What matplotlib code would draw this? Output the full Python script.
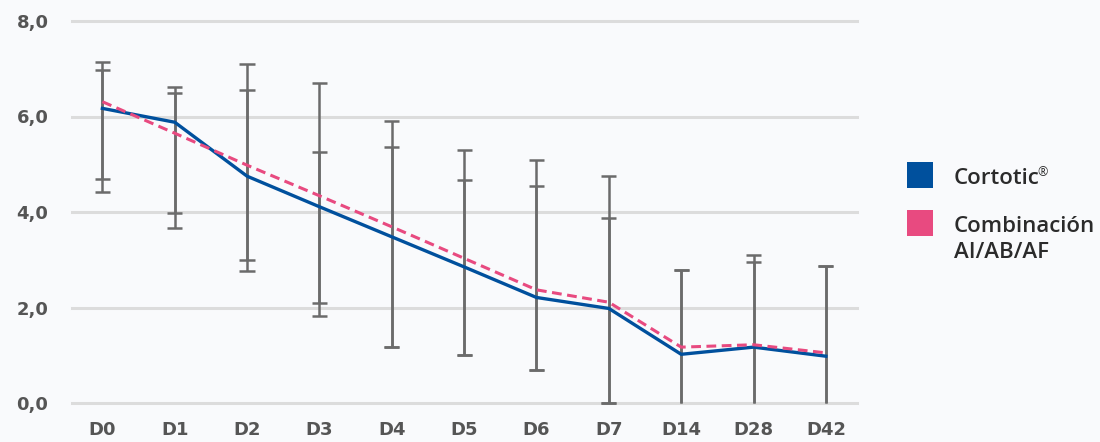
import matplotlib
matplotlib.use("Agg")
import matplotlib.pyplot as plt
from matplotlib.patches import Rectangle
import numpy as np

categories = ["D0", "D1", "D2", "D3", "D4", "D5", "D6", "D7", "D14", "D28", "D42"]
cortotic = [6.17, 5.88, 4.75, 4.11, 3.48, 2.85, 2.21, 1.98, 1.02, 1.17, 0.98]
combinacion = [6.31, 5.65, 4.98, 4.34, 3.69, 3.03, 2.37, 2.11, 1.17, 1.22, 1.05]
cortotic_upper = [6.97, 6.50, 6.56, 5.26, 5.36, 4.68, 4.54, 3.88, 2.79, 2.95, 2.87]
cortotic_lower = [4.69, 3.97, 2.99, 2.10, 1.17, 1.00, 0.69, 0.00, -0.5, -0.5, -0.5]
comb_upper = [7.14, 6.61, 7.10, 6.71, 5.90, 5.29, 5.08, 4.75, 2.79, 3.09, 2.87]
comb_lower = [4.42, 3.67, 2.76, 1.82, 1.17, 1.00, 0.69, 0.00, -0.5, -0.5, -0.5]
yticks = [0, 2, 4, 6, 8]
ytick_labels = ["0,0", "2,0", "4,0", "6,0", "8,0"]
legend_labels = ["Cortotic", "Combinación\nAI/AB/AF"]

BLUE = "#00509d"
PINK = "#e84a80"
GREY = "#6b6b6b"
BG = "#f9fafc"

fig = plt.figure(figsize=(11, 4.42), dpi=100, facecolor=BG)
ax = fig.add_axes([72/1100, 39/442, 785/1100, 382/442], facecolor=BG)
x = np.arange(len(categories))

for yv in yticks:
    ax.axhline(yv, color="#dcdcdc", lw=2.2, zorder=0, clip_on=False)

ax.plot(x, cortotic, color=BLUE, lw=2.4, zorder=3, solid_joinstyle="round")
ax.plot(x, combinacion, color=PINK, lw=2.2, ls=(0, (3.2, 1.8)), zorder=3)

cap_half = 0.105
for ups, lows in [(cortotic_upper, cortotic_lower), (comb_upper, comb_lower)]:
    for xi, u, l in zip(x, ups, lows):
        ax.vlines(xi, max(l, 0), u, color=GREY, lw=1.8, zorder=2, clip_on=False)
        ax.hlines(u, xi - cap_half, xi + cap_half, color=GREY, lw=1.8, zorder=2, clip_on=False)
        if l >= 0:
            ax.hlines(l, xi - cap_half, xi + cap_half, color=GREY, lw=1.8, zorder=2, clip_on=False)

ax.set_xlim(-0.42, 10.43)
ax.set_ylim(0, 8)
ax.set_xticks(x)
ax.set_xticklabels(categories)
ax.set_yticks(yticks)
ax.set_yticklabels(ytick_labels)
ax.tick_params(length=0, labelsize=13, labelcolor="#555555")
ax.tick_params(axis="x", pad=13)
ax.tick_params(axis="y", pad=17)
for lab in ax.get_xticklabels() + ax.get_yticklabels():
    lab.set_fontfamily("DejaVu Sans")
    lab.set_fontweight("bold")
for s in ax.spines.values():
    s.set_visible(False)

# legend
renderer = fig.canvas.get_renderer()
baselines = [[184], [232, 258]]
for i, (lab, col) in enumerate(zip(legend_labels, [BLUE, PINK])):
    ytop = 162 + i * 48
    fig.add_artist(Rectangle((907/1100, 1 - (ytop + 26)/442), 26/1100, 26/442,
                             transform=fig.transFigure, facecolor=col, edgecolor="none"))
    for line, yb in zip(lab.split("\n"), baselines[i]):
        t = fig.text(954/1100, 1 - yb/442, line, ha="left", va="baseline",
                     fontsize=16, color="#2b2b2b", family="Open Sans", fontweight="semibold")
        if i == 0:
            bb = t.get_window_extent(renderer)
            fig.text((bb.x1 - 2)/1100, 1 - (yb - 8)/442, "\u00ae", ha="left", va="baseline",
                     fontsize=9, color="#2b2b2b", family="Open Sans")

fig.savefig("out.png", dpi=100, facecolor=BG)
